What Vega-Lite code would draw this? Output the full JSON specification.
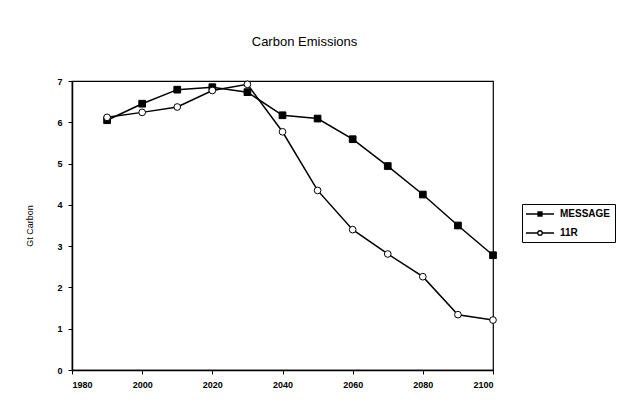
{
  "$schema": "https://vega.github.io/schema/vega-lite/v6.json",
  "autosize": "none",
  "width": 421,
  "height": 289,
  "padding": {"left": 72, "top": 81, "right": 126, "bottom": 45},
  "background": "white",
  "config": {
    "font": "Liberation Sans",
    "view": {"stroke": "black", "strokeWidth": 1.2}
  },
  "title": {"text": "Carbon Emissions", "fontSize": 13, "fontWeight": "normal", "font": "Liberation Sans", "offset": 28, "dx": 22, "color": "black", "anchor": "middle"},
  "data": {"values": [
    {"year": 1990, "series": "MESSAGE", "value": 6.05},
    {"year": 2000, "series": "MESSAGE", "value": 6.45},
    {"year": 2010, "series": "MESSAGE", "value": 6.79},
    {"year": 2020, "series": "MESSAGE", "value": 6.85},
    {"year": 2030, "series": "MESSAGE", "value": 6.73},
    {"year": 2040, "series": "MESSAGE", "value": 6.17},
    {"year": 2050, "series": "MESSAGE", "value": 6.09},
    {"year": 2060, "series": "MESSAGE", "value": 5.59},
    {"year": 2070, "series": "MESSAGE", "value": 4.94},
    {"year": 2080, "series": "MESSAGE", "value": 4.25},
    {"year": 2090, "series": "MESSAGE", "value": 3.5},
    {"year": 2100, "series": "MESSAGE", "value": 2.78},
    {"year": 1990, "series": "11R", "value": 6.12},
    {"year": 2000, "series": "11R", "value": 6.24},
    {"year": 2010, "series": "11R", "value": 6.37},
    {"year": 2020, "series": "11R", "value": 6.77},
    {"year": 2030, "series": "11R", "value": 6.92},
    {"year": 2040, "series": "11R", "value": 5.77},
    {"year": 2050, "series": "11R", "value": 4.35},
    {"year": 2060, "series": "11R", "value": 3.4},
    {"year": 2070, "series": "11R", "value": 2.81},
    {"year": 2080, "series": "11R", "value": 2.26},
    {"year": 2090, "series": "11R", "value": 1.34},
    {"year": 2100, "series": "11R", "value": 1.21}
  ]},
  "encoding": {
    "x": {"field": "year", "type": "quantitative",
      "scale": {"domain": [1980, 2100], "nice": false, "zero": false},
      "axis": {"values": [1980, 2000, 2020, 2040, 2060, 2080, 2100], "format": "d", "grid": false, "title": null,
        "labelFontSize": 9, "labelFontWeight": "bold", "labelColor": "black", "domainColor": "black", "tickColor": "black", "tickSize": 4, "tickOffset": 0, "labelPadding": 6, "domainWidth": 1.5}},
    "y": {"field": "value", "type": "quantitative",
      "scale": {"domain": [0, 7], "nice": false},
      "axis": {"values": [0, 1, 2, 3, 4, 5, 6, 7], "grid": false, "title": "Gt Carbon", "titleFontSize": 9, "titleFontWeight": "normal", "titleColor": "black", "titlePadding": 22,
        "labelFontSize": 9, "labelFontWeight": "bold", "labelColor": "black", "domainColor": "black", "tickColor": "black", "tickSize": 4, "labelPadding": 6, "domainWidth": 1.5}}
  },
  "layer": [
    {
      "mark": {"type": "line", "color": "black", "strokeWidth": 1.5},
      "encoding": {"detail": {"field": "series"}}
    },
    {
      "mark": {"type": "point", "stroke": "black", "strokeWidth": 1, "opacity": 1, "filled": false, "size": 45},
      "encoding": {
        "shape": {"field": "series", "type": "nominal",
          "scale": {"domain": ["MESSAGE", "11R"], "range": ["square", "circle"]}, "legend": null},
        "fill": {"field": "series", "type": "nominal",
          "scale": {"domain": ["MESSAGE", "11R"], "range": ["black", "white"]}, "legend": null}
      }
    },
    {
      "transform": [{"filter": "datum.year > 3000"}],
      "mark": {"type": "point", "strokeWidth": 1.3, "opacity": 1, "size": 100},
      "encoding": {
        "shape": {"field": "series", "type": "nominal",
          "scale": {"domain": ["MESSAGE", "11R"], "range": ["M-2.8,0H2.8M-0.4,-0.4H0.4V0.4H-0.4Z", "M-2.8,0H-0.45M0.45,0H2.8M-0.45,0A0.45,0.45 0 1,0 0.45,0A0.45,0.45 0 1,0 -0.45,0Z"]},
          "legend": {"title": null, "orient": "none", "legendX": 450, "legendY": 123, "strokeColor": "black", "padding": 4, "labelFontSize": 10, "labelFontWeight": "bold", "labelColor": "black", "symbolSize": 100, "symbolOffset": 8, "labelOffset": 14, "rowPadding": 8, "symbolStrokeWidth": 1.3}},
        "fill": {"field": "series", "type": "nominal",
          "scale": {"domain": ["MESSAGE", "11R"], "range": ["black", "white"]},
          "legend": {"title": null, "orient": "none", "legendX": 450, "legendY": 123, "strokeColor": "black", "padding": 4, "labelFontSize": 10, "labelFontWeight": "bold", "labelColor": "black", "symbolSize": 100, "symbolOffset": 8, "labelOffset": 14, "rowPadding": 8, "symbolStrokeWidth": 1.3}},
        "stroke": {"field": "series", "type": "nominal",
          "scale": {"domain": ["MESSAGE", "11R"], "range": ["black", "black"]},
          "legend": {"title": null, "orient": "none", "legendX": 450, "legendY": 123, "strokeColor": "black", "padding": 4, "labelFontSize": 10, "labelFontWeight": "bold", "labelColor": "black", "symbolSize": 100, "symbolOffset": 8, "labelOffset": 14, "rowPadding": 8, "symbolStrokeWidth": 1.3}}
      }
    }
  ],
  "resolve": {"scale": {"shape": "independent", "fill": "independent", "stroke": "independent"}}
}
